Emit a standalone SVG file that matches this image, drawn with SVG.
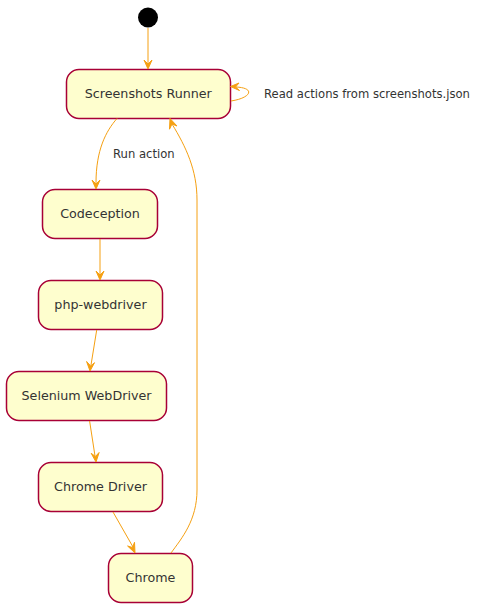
<svg xmlns="http://www.w3.org/2000/svg" width="482" height="612" viewBox="0 0 482 612">
<style>
.node rect{fill:#FEFECE;stroke:#A80036;stroke-width:1.5}
.node text{font-family:"DejaVu Sans",sans-serif;font-size:12.7px;fill:#333333;text-anchor:middle}
.edge{fill:none;stroke:#F5A012;stroke-width:1}
.head{fill:#F5A012;stroke:#F5A012;stroke-width:1}
.lbl{font-family:"DejaVu Sans",sans-serif;font-size:11.6px;fill:#333333}
</style>
<rect width="482" height="612" fill="#FFFFFF"/>
<g id="start"><circle cx="148" cy="17.5" r="10" fill="#000000"/></g>
<g id="runner" class="node"><rect x="66.5" y="69.5" width="164" height="49" rx="12.5"/><text x="148.3" y="98.3">Screenshots Runner</text></g>
<g id="codeception" class="node"><rect x="42.5" y="189.5" width="115" height="49" rx="12.5"/><text x="100" y="218.3">Codeception</text></g>
<g id="phpwebdriver" class="node"><rect x="38.5" y="280.5" width="124" height="49" rx="12.5"/><text x="100.5" y="309.3">php-webdriver</text></g>
<g id="selenium" class="node"><rect x="6.5" y="371.5" width="160" height="49" rx="12.5"/><text x="86.5" y="400.3">Selenium WebDriver</text></g>
<g id="chromedriver" class="node"><rect x="38.5" y="462.5" width="124" height="49" rx="12.5"/><text x="100.5" y="491.3">Chrome Driver</text></g>
<g id="chrome" class="node"><rect x="108.5" y="553.5" width="84" height="49" rx="12.5"/><text x="150.5" y="582.3">Chrome</text></g>
<g id="connectors">
<path class="edge" d="M148,28 L148,63"/>
<polygon class="head" points="144,60 148,69 152,60 148,64"/>
<path class="edge" d="M231,101 C251,98 256,88 236,87"/>
<polygon class="head" points="239,83 230.5,86.5 239.5,90.5 235.5,87"/>
<text class="lbl" x="264" y="98">Read actions from screenshots.json</text>
<path class="edge" d="M117,118.5 C106,131 96,150 96,183"/>
<polygon class="head" points="92,180 96,189 100,180 96,184"/>
<text class="lbl" x="113" y="158">Run action</text>
<path class="edge" d="M100,239 L100,274"/>
<polygon class="head" points="96,271 100,280 104,271 100,275"/>
<path class="edge" d="M96.7,330 L91,365"/>
<polygon class="head" points="86.6,361.5 90,371 94.5,362.7 90.7,366"/>
<path class="edge" d="M89.6,421 L95,456"/>
<polygon class="head" points="91.2,453.3 96,462 99.1,452.5 95.4,456.5"/>
<path class="edge" d="M113,512 L133,547"/>
<polygon class="head" points="127.6,546 135,553 134.5,542.3 132.5,547.5"/>
<path class="edge" d="M171,553 C182,538 197,520 197,490 L197,200 C197,170 186,147 172,124"/>
<polygon class="head" points="169.5,129.2 170,118.5 177,126 172,124"/>
</g>
</svg>
